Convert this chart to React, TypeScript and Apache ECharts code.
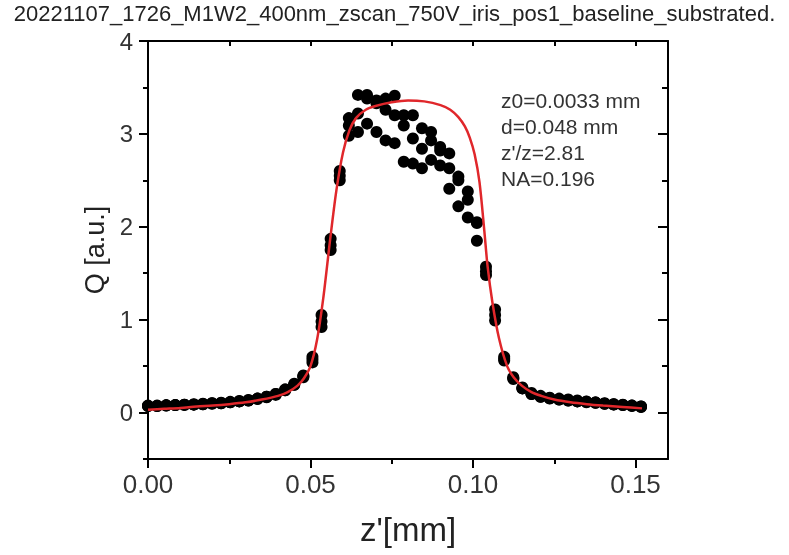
import React, { useEffect, useRef } from "react";
import * as echarts from "echarts";

const titleText = "20221107_1726_M1W2_400nm_zscan_750V_iris_pos1_baseline_substrated.";
const annotationLines = ["z0=0.0033 mm", "d=0.048 mm", "z'/z=2.81", "NA=0.196"];

const zPos = [
  0, 0.0028, 0.0056, 0.0084, 0.0112, 0.0141, 0.0169, 0.0197, 0.0225, 0.0253,
  0.0281, 0.0309, 0.0337, 0.0365, 0.0393, 0.0422, 0.045, 0.0478, 0.0506, 0.0534,
  0.0562, 0.059, 0.0618, 0.0646, 0.0674, 0.0703, 0.0731, 0.0759, 0.0787, 0.0815,
  0.0843, 0.0871, 0.0899, 0.0927, 0.0955, 0.0984, 0.1012, 0.104, 0.1068, 0.1096,
  0.1124, 0.1152, 0.118, 0.1208, 0.1236, 0.1265, 0.1293, 0.1321, 0.1349, 0.1377,
  0.1405, 0.1433, 0.1461, 0.1489, 0.1517,
];

const scanA = [
  0.07, 0.07, 0.075, 0.08, 0.08, 0.085, 0.09, 0.095, 0.1, 0.11,
  0.12, 0.13, 0.15, 0.17, 0.2, 0.25, 0.31, 0.4, 0.6, 1.05,
  1.87, 2.6, 3.17, 3.42, 3.42, 3.36, 3.38, 3.41, 3.2, 3.2,
  3.06, 3.02, 2.86, 2.79, 2.54, 2.38, 2.05, 1.57, 1.11, 0.6,
  0.38, 0.27, 0.21, 0.18, 0.16, 0.15, 0.14, 0.13, 0.12, 0.11,
  0.1, 0.09, 0.085, 0.075, 0.065,
];
const scanB = [
  0.075, 0.07, 0.08, 0.08, 0.085, 0.09, 0.095, 0.1, 0.105, 0.115,
  0.125, 0.135, 0.15, 0.17, 0.2, 0.24, 0.3, 0.39, 0.57, 0.98,
  1.8, 2.55, 3.09, 3.22, 3.38, 3.33, 3.26, 3.2, 3.09, 2.95,
  2.84, 2.93, 2.82, 2.63, 2.5, 2.29, 2.04, 1.52, 1.05, 0.58,
  0.37, 0.26, 0.2, 0.17, 0.155, 0.14, 0.13, 0.12, 0.11, 0.105,
  0.095, 0.09, 0.08, 0.075, 0.065,
];
const scanC = [
  0.07, 0.075, 0.075, 0.08, 0.085, 0.085, 0.09, 0.1, 0.1, 0.11,
  0.12, 0.13, 0.145, 0.165, 0.19, 0.24, 0.3, 0.38, 0.54, 0.92,
  1.75, 2.5, 2.98, 3.02, 3.11, 3.02, 2.93, 2.9, 2.7, 2.68,
  2.63, 2.72, 2.66, 2.41, 2.22, 2.1, 1.85, 1.48, 0.99, 0.56,
  0.36, 0.26, 0.2, 0.17, 0.15, 0.14, 0.13, 0.12, 0.115, 0.105,
  0.095, 0.085, 0.08, 0.07, 0.06,
];

const fitZ = [
  0, 0.005, 0.01, 0.015, 0.02, 0.025, 0.03, 0.035, 0.04, 0.043,
  0.046, 0.048, 0.05, 0.052, 0.054, 0.056, 0.058, 0.06, 0.062, 0.064,
  0.067, 0.07, 0.075, 0.08, 0.085, 0.09, 0.093, 0.0955, 0.0975, 0.099,
  0.1005, 0.102, 0.1035, 0.1045, 0.106, 0.108, 0.1105, 0.1125, 0.115, 0.118,
  0.121, 0.125, 0.13, 0.135, 0.14, 0.146, 0.152,
];
const fitQ = [
  0.03, 0.04, 0.05, 0.065, 0.075, 0.09, 0.11, 0.14, 0.18, 0.22,
  0.29, 0.37, 0.5, 0.78, 1.25, 1.85, 2.4, 2.8, 3.04, 3.17,
  3.26, 3.3, 3.34, 3.36, 3.35, 3.31, 3.26, 3.18, 3.08, 2.96,
  2.78, 2.48, 1.95, 1.57, 1.18, 0.8, 0.5, 0.38, 0.29, 0.22,
  0.18, 0.14, 0.11, 0.09, 0.075, 0.06, 0.045,
];

const xMajorTicks = [0, 0.05, 0.1, 0.15];
const xMinorTicks = [0.025, 0.075, 0.125];
const yMajorTicks = [0, 1, 2, 3, 4];
const yMinorTicks = [-0.5, 0.5, 1.5, 2.5, 3.5];

const FONT = "'Liberation Sans', Arial, sans-serif";

export default function App() {
  const ref = useRef<HTMLDivElement>(null);
  useEffect(() => {
    if (!ref.current) return;
    const chart = echarts.init(ref.current, undefined, { renderer: "svg" });
    const lineStyle = { color: "#000", width: 2 };
    const hidden = { show: false };
    const tickStyle = { width: 2, color: "#000" };
    const baseX = { type: "value", min: 0, max: 0.16, splitLine: hidden, gridIndex: 0 };
    const baseY = { type: "value", min: -0.5, max: 4, splitLine: hidden, gridIndex: 0 };
    const scatterSeries = [scanA, scanB, scanC].map((vals, k) => ({
      type: "scatter",
      name: "scan" + (k + 1),
      data: zPos.map((z, i) => [z, vals[i]]),
      symbol: "circle",
      symbolSize: 12,
      itemStyle: { color: "#000", opacity: 1 },
      z: 2,
    }));
    chart.setOption({
      animation: false,
      textStyle: { fontFamily: FONT },
      title: {
        text: titleText,
        left: "center",
        top: 1,
        padding: 0,
        textStyle: { fontFamily: FONT, fontSize: 22, lineHeight: 24, fontWeight: "normal", color: "#222" },
      },
      grid: { left: 148, right: 121, top: 41, bottom: 96, containLabel: false },
      xAxis: [
        {
          ...baseX,
          position: "bottom",
          axisLine: { show: true, onZero: false, lineStyle },
          axisTick: { show: true, inside: false, length: 9, customValues: xMajorTicks, lineStyle: tickStyle },
          axisLabel: {
            show: true,
            customValues: xMajorTicks,
            formatter: (v: number) => v.toFixed(2),
            fontSize: 26,
            color: "#333",
            margin: 12,
            fontFamily: FONT,
          },
          name: "z'[mm]",
          nameLocation: "middle",
          nameGap: 54,
          nameTextStyle: { fontSize: 33, color: "#222", fontFamily: FONT },
        },
        {
          ...baseX,
          position: "bottom",
          axisLine: { show: false, onZero: false },
          axisTick: { show: true, inside: false, length: 5, customValues: xMinorTicks, lineStyle: tickStyle },
          axisLabel: hidden,
        },
        {
          ...baseX,
          position: "top",
          axisLine: { show: true, onZero: false, lineStyle },
          axisTick: { show: true, inside: true, length: 5, customValues: [...xMajorTicks, ...xMinorTicks], lineStyle: tickStyle },
          axisLabel: hidden,
        },
      ],
      yAxis: [
        {
          ...baseY,
          position: "left",
          axisLine: { show: true, onZero: false, lineStyle },
          axisTick: { show: true, inside: false, length: 9, customValues: yMajorTicks, lineStyle: tickStyle },
          axisLabel: {
            show: true,
            customValues: yMajorTicks,
            fontSize: 24,
            lineHeight: 22,
            color: "#333",
            margin: 15,
            fontFamily: FONT,
          },
          name: "Q [a.u.]",
          nameLocation: "middle",
          nameGap: 35,
          nameTextStyle: { fontSize: 27, color: "#222", fontFamily: FONT },
        },
        {
          ...baseY,
          position: "left",
          axisLine: { show: false, onZero: false },
          axisTick: { show: true, inside: false, length: 5, customValues: yMinorTicks, lineStyle: tickStyle },
          axisLabel: hidden,
        },
        {
          ...baseY,
          position: "right",
          axisLine: { show: true, onZero: false, lineStyle },
          axisTick: { show: true, inside: true, length: 10, customValues: yMajorTicks, lineStyle: tickStyle },
          axisLabel: hidden,
        },
        {
          ...baseY,
          position: "right",
          axisLine: { show: false, onZero: false },
          axisTick: { show: true, inside: true, length: 6, customValues: yMinorTicks, lineStyle: tickStyle },
          axisLabel: hidden,
        },
      ],
      graphic: [
        {
          type: "text",
          left: 501,
          top: 87,
          style: {
            text: annotationLines.join("\n"),
            font: `21px ${FONT}`,
            fill: "#333",
            lineHeight: 26,
          },
        },
      ],
      series: [
        ...scatterSeries,
        {
          type: "line",
          name: "fit",
          data: fitZ.map((z, i) => [z, fitQ[i]]),
          showSymbol: false,
          symbol: "none",
          smooth: 0.3,
          lineStyle: { color: "#e0272b", width: 2.5 },
          z: 5,
        },
      ],
    });
    return () => chart.dispose();
  }, []);
  return <div ref={ref} style={{ position: "fixed", left: 0, top: 0, width: 789, height: 555 }} />;
}
